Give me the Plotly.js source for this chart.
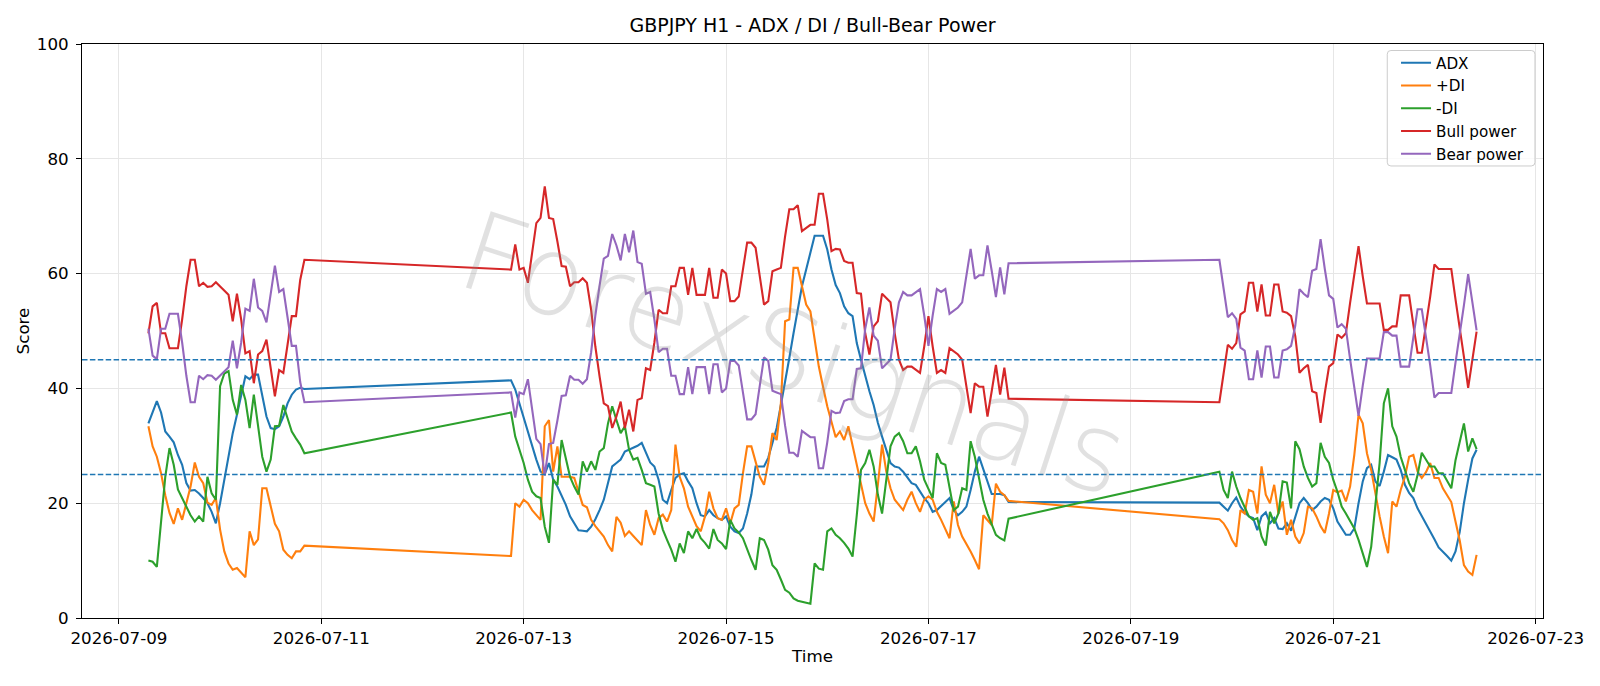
<!DOCTYPE html>
<html>
<head>
<meta charset="utf-8">
<script src="https://cdn.plot.ly/plotly-3.0.1.min.js"></script>
<style>
html,body{margin:0;padding:0;background:#ffffff;}
#chart{width:1600px;height:686px;}
</style>
</head>
<body>
<div id="chart"></div>
<script>
// Hourly (H1) bars: three trading blocks separated by weekends
const segmentStarts = ['2026-07-09T07:00:00', '2026-07-12T21:00:00', '2026-07-19T21:00:00'];
const segmentLengths = [38, 119, 62];

const seriesNames = ['ADX', '+DI', '-DI', 'Bull power', 'Bear power'];
const seriesColors = ['#1f77b4', '#ff7f0e', '#2ca02c', '#d62728', '#9467bd'];

const adx = [
  33.9, 36.0, 37.8, 35.8, 32.5, 31.6, 30.6, 28.4, 26.7, 23.5, 22.2, 22.3, 21.7, 20.9, 20.0, 18.5, 16.5, 20.0, 24.1, 28.1,
  32.2, 35.4, 38.6, 42.1, 41.6, 42.4, 42.4, 38.6, 35.1, 33.1, 32.9, 33.4, 35.1, 37.4, 38.9, 39.8, 40.1, 39.9,
  41.4, 39.8, 37.4, 34.8, 32.2, 29.9, 27.6, 25.5, 25.1, 27.0,
  24.1, 22.9, 21.4, 19.7, 17.7, 16.5, 15.3, 15.2, 15.1, 15.9,
  17.2, 18.8, 20.6, 23.5, 26.4, 27.0, 27.6, 29.0, 29.3, 29.6,
  30.0, 30.5, 28.7, 27.1, 26.4, 24.1, 20.6, 20.0, 22.3, 24.4,
  25.0, 25.2, 23.8, 22.6, 20.0, 17.9, 17.7, 18.8, 17.9, 17.4,
  17.1, 17.7, 15.9, 15.1, 14.8, 15.6, 18.2, 21.5, 26.4, 26.4,
  26.4, 27.9, 30.5, 33.1, 37.1, 40.9, 45.3, 49.6, 53.7, 57.8,
  60.7, 63.6, 66.6, 66.6, 66.6, 64.2, 60.7, 58.0, 56.6, 54.3,
  53.1, 52.6, 47.9, 45.0, 42.1, 39.5, 37.1, 34.0, 31.6, 29.3,
  27.0, 26.4, 26.2, 25.5, 24.4, 23.5, 23.2, 22.0, 20.9, 20.0,
  18.5, 18.8, 19.5, 20.3, 20.9, 18.8, 17.9, 18.5, 19.4, 22.3,
  25.5, 28.1, 25.8, 23.5, 21.6, 21.6, 21.6, 21.4, 20.2,
  20.1, 19.4, 18.7, 20.0, 21.0, 19.4, 18.4, 17.7, 17.4, 15.3,
  17.7, 18.4, 16.5, 17.4, 15.6, 15.5, 16.5, 15.2, 17.7, 20.0,
  20.9, 20.0, 18.8, 19.4, 20.3, 20.9, 20.6, 19.1, 16.8, 15.6,
  14.5, 14.5, 15.6, 20.0, 23.8, 26.1, 26.7, 23.8, 23.0, 25.5,
  28.4, 28.0, 27.6, 25.8, 23.2, 21.8, 20.9, 19.1, 17.8, 16.5,
  15.1, 13.7, 12.3, 11.6, 10.8, 10.0, 11.6, 15.0, 20.0, 24.1,
  27.8, 29.3
];

const plusDI = [
  33.4, 29.9, 28.1, 25.2, 21.4, 18.3, 16.4, 19.1, 17.1, 20.0, 22.9, 27.1, 24.6, 23.5, 20.1, 19.7, 20.9, 15.4, 11.6, 9.5,
  8.4, 8.7, 7.8, 7.1, 15.1, 12.7, 13.7, 22.6, 22.6, 19.4, 16.4, 15.1, 11.9, 11.0, 10.4, 11.6, 11.6, 12.6,
  10.8, 20.0, 19.4, 20.6, 20.0, 18.8, 17.9, 17.1, 33.4, 34.5,
  25.5, 29.9, 24.6, 24.6, 24.6, 24.4, 22.0, 19.7, 19.3, 17.1,
  16.0, 15.1, 14.2, 12.7, 11.6, 17.6, 16.6, 14.3, 15.1, 14.3,
  13.5, 12.7, 18.8, 16.2, 14.5, 17.4, 18.0, 16.8, 18.8, 30.2,
  24.6, 22.6, 19.4, 17.7, 16.0, 15.1, 17.7, 22.0, 19.1, 17.4,
  17.1, 19.1, 16.5, 19.1, 19.7, 25.2, 29.9, 29.9, 27.0, 24.6,
  23.2, 27.0, 32.2, 31.0, 37.4, 51.7, 52.0, 61.0, 61.0, 57.8,
  54.6, 53.4, 48.5, 43.8, 40.3, 36.9, 34.2, 31.5, 32.5, 31.0,
  33.4, 29.9, 26.7, 23.2, 20.0, 18.2, 16.8, 23.2, 30.2, 25.5,
  22.6, 20.6, 19.7, 18.8, 20.6, 22.0, 20.0, 18.5, 20.6, 21.2,
  20.6, 18.5, 17.1, 15.6, 13.9, 20.3, 16.2, 14.2, 13.0, 11.6,
  10.1, 8.5, 17.9, 17.1, 16.2, 23.4, 22.0, 21.4, 20.4,
  17.2, 16.5, 15.3, 13.6, 12.4, 18.8, 18.2, 22.3, 22.0, 18.2,
  26.4, 21.5, 20.0, 23.2, 18.2, 20.3, 14.5, 17.1, 14.2, 13.0,
  14.8, 19.4, 19.1, 17.7, 16.0, 14.8, 18.2, 22.3, 21.9, 22.2,
  20.3, 22.9, 28.4, 35.4, 33.9, 28.7, 25.8, 21.5, 17.7, 14.2,
  11.3, 20.3, 19.4, 22.3, 24.6, 28.1, 28.4, 25.5, 24.4, 25.4,
  27.0, 24.4, 24.4, 22.6, 21.4, 20.2, 16.8, 13.5, 9.2, 8.1,
  7.5, 11.0
];

const minusDI = [
  10.0, 9.8, 8.9, 16.5, 24.6, 29.6, 26.7, 22.4, 20.9, 19.4, 17.9, 16.8, 17.7, 16.8, 24.6, 21.7, 20.6, 40.4, 42.6, 43.0,
  38.0, 35.4, 40.6, 38.0, 33.1, 38.9, 33.4, 28.1, 25.5, 27.6, 33.4, 33.5, 37.1, 34.8, 32.5, 31.3, 30.2, 28.7,
  35.8, 31.6, 29.3, 27.0, 24.1, 22.0, 21.2, 20.9, 15.9, 13.1,
  24.1, 23.2, 31.0, 27.6, 24.6, 22.9, 21.5, 27.3, 25.5, 27.3,
  25.8, 29.0, 29.6, 33.9, 36.9, 34.5, 32.2, 33.4, 29.3, 27.6,
  27.9, 25.8, 23.5, 23.2, 22.9, 18.2, 15.4, 13.6, 11.9, 9.8,
  13.0, 11.3, 15.1, 13.9, 15.5, 13.9, 13.1, 12.1, 15.5, 13.6,
  13.0, 12.0, 17.1, 15.6, 14.9, 13.9, 11.9, 10.1, 8.4, 13.9,
  13.6, 11.9, 9.2, 8.4, 6.7, 4.9, 4.4, 3.4, 3.0, 2.8,
  2.6, 2.5, 9.5, 8.6, 8.4, 15.1, 15.6, 14.5, 13.9, 13.1,
  12.1, 10.7, 17.9, 25.8, 27.0, 29.3, 26.4, 21.5, 18.2, 24.1,
  29.9, 31.6, 32.2, 30.8, 28.7, 28.7, 29.9, 27.3, 24.1, 22.5,
  20.9, 28.7, 27.0, 26.7, 22.9, 18.8, 19.4, 22.6, 22.3, 30.8,
  28.1, 24.1, 20.6, 18.2, 16.5, 14.5, 13.9, 13.5, 17.3,
  25.5, 22.3, 20.9, 25.5, 22.9, 20.9, 19.4, 17.7, 17.1, 17.4,
  14.2, 12.6, 18.5, 16.5, 18.2, 23.8, 23.6, 19.1, 30.8, 29.4,
  26.4, 24.4, 22.9, 23.5, 30.5, 28.1, 27.0, 24.1, 22.0, 19.4,
  18.2, 16.8, 15.6, 13.6, 11.3, 8.9, 12.4, 20.0, 27.0, 37.4,
  40.0, 33.4, 31.6, 28.1, 25.8, 23.5, 22.0, 24.9, 28.8, 27.5,
  26.4, 26.4, 25.2, 25.2, 23.8, 22.6, 27.5, 30.8, 33.9, 29.0,
  31.3, 29.4
];

const bullPower = [
  49.6, 54.3, 54.9, 49.6, 49.6, 47.0, 47.0, 47.0, 52.0, 57.8, 62.4, 62.4, 57.8, 58.4, 57.7, 57.8, 58.5, 57.8, 57.1, 56.3,
  51.7, 56.5, 52.0, 46.1, 46.5, 40.9, 45.9, 46.5, 48.5, 43.8, 38.6, 43.2, 42.7, 47.6, 52.6, 52.6, 58.9, 62.4,
  60.7, 65.1, 60.7, 61.0, 58.4, 63.6, 68.8, 69.7, 75.2, 69.7,
  69.5, 65.6, 61.3, 61.2, 57.8, 58.5, 58.5, 59.2, 58.4, 53.7,
  47.3, 42.1, 37.4, 36.9, 33.1, 35.1, 37.7, 33.1, 36.3, 32.5,
  38.0, 38.3, 43.5, 43.2, 48.0, 53.7, 53.1, 53.1, 57.8, 57.8,
  61.0, 61.0, 56.3, 61.0, 56.3, 56.3, 56.3, 61.0, 55.8, 55.8,
  60.7, 60.0, 55.2, 55.2, 56.0, 60.7, 65.4, 65.4, 64.5, 59.5,
  54.6, 55.2, 60.4, 60.7, 61.0, 66.5, 71.2, 71.2, 71.9, 67.4,
  68.0, 68.5, 68.5, 73.9, 73.9, 69.4, 63.9, 64.3, 64.2, 62.2,
  61.9, 61.9, 56.6, 56.5, 49.6, 45.9, 50.8, 51.7, 56.5, 55.8,
  55.0, 49.6, 45.0, 43.2, 43.8, 43.8, 43.2, 42.7, 47.3, 52.6,
  47.3, 42.7, 43.2, 42.7, 47.0, 46.5, 45.9, 45.0, 40.3, 35.7,
  40.9, 40.3, 40.3, 35.1, 39.5, 44.1, 38.9, 43.6, 38.2,
  37.6, 42.6, 47.6, 46.9, 47.9, 52.9, 53.4, 58.4, 58.4, 53.4,
  58.1, 52.7, 52.7, 58.1, 58.1, 53.4, 53.2, 52.6, 49.1, 42.7,
  43.5, 44.1, 39.5, 39.2, 34.0, 39.2, 43.8, 44.4, 49.4, 48.8,
  49.6, 54.9, 59.5, 64.8, 59.5, 54.8, 54.8, 54.8, 54.8, 50.2,
  50.2, 50.8, 50.8, 56.2, 56.2, 56.2, 51.1, 46.2, 46.2, 50.8,
  56.0, 61.6, 60.8, 60.8, 60.8, 60.8, 55.5, 50.8, 45.5, 40.1,
  45.0, 49.9
];

const bearPower = [
  50.4, 45.7, 45.1, 50.4, 50.4, 53.0, 53.0, 53.0, 48.0, 42.2, 37.6, 37.6, 42.2, 41.6, 42.3, 42.2, 41.5, 42.2, 42.9, 43.7,
  48.3, 43.5, 48.0, 53.9, 53.5, 59.1, 54.1, 53.5, 51.5, 56.2, 61.4, 56.8, 57.3, 52.4, 47.4, 47.4, 41.1, 37.6,
  39.3, 34.9, 39.3, 39.0, 41.6, 36.4, 31.2, 30.3, 24.8, 30.3,
  30.5, 34.4, 38.7, 38.8, 42.2, 41.5, 41.5, 40.8, 41.6, 46.3,
  52.7, 57.9, 62.6, 63.1, 66.9, 64.9, 62.3, 66.9, 63.7, 67.5,
  62.0, 61.7, 56.5, 56.8, 52.0, 46.3, 46.9, 46.9, 42.2, 42.2,
  39.0, 39.0, 43.7, 39.0, 43.7, 43.7, 43.7, 39.0, 44.2, 44.2,
  39.3, 40.0, 44.8, 44.8, 44.0, 39.3, 34.6, 34.6, 35.5, 40.5,
  45.4, 44.8, 39.6, 39.3, 39.0, 33.5, 28.8, 28.8, 28.1, 32.6,
  32.0, 31.5, 31.5, 26.1, 26.1, 30.6, 36.1, 35.7, 35.8, 37.8,
  38.1, 38.1, 43.4, 43.5, 50.4, 54.1, 49.2, 48.3, 43.5, 44.2,
  45.0, 50.4, 55.0, 56.8, 56.2, 56.2, 56.8, 57.3, 52.7, 47.4,
  52.7, 57.3, 56.8, 57.3, 53.0, 53.5, 54.1, 55.0, 59.7, 64.3,
  59.1, 59.7, 59.7, 64.9, 60.5, 55.9, 61.1, 56.4, 61.8,
  62.4, 57.4, 52.4, 53.1, 52.1, 47.1, 46.6, 41.6, 41.6, 46.6,
  41.9, 47.3, 47.3, 41.9, 41.9, 46.6, 46.8, 47.4, 50.9, 57.3,
  56.5, 55.9, 60.5, 60.8, 66.0, 60.8, 56.2, 55.6, 50.6, 51.2,
  50.4, 45.1, 40.5, 35.2, 40.5, 45.2, 45.2, 45.2, 45.2, 49.8,
  49.8, 49.2, 49.2, 43.8, 43.8, 43.8, 48.9, 53.8, 53.8, 49.2,
  44.0, 38.4, 39.2, 39.2, 39.2, 39.2, 44.5, 49.2, 54.5, 59.9,
  55.0, 50.1
];

const referenceLevels = [45, 25];
const yTickValues = [0, 20, 40, 60, 80, 100];
const xRange = ['2026-07-08 15:15', '2026-07-23 01:45'];
const xTickStart = '2026-07-09';

function pad2(n) { return String(n).padStart(2, '0'); }
const times = [];
segmentStarts.forEach(function (s, k) {
  const t0 = Date.parse(s + 'Z');
  for (let i = 0; i < segmentLengths[k]; i++) {
    const d = new Date(t0 + i * 3600000);
    times.push(d.getUTCFullYear() + '-' + pad2(d.getUTCMonth() + 1) + '-' + pad2(d.getUTCDate()) +
      ' ' + pad2(d.getUTCHours()) + ':00');
  }
});

const allSeries = [adx, plusDI, minusDI, bullPower, bearPower];
const traces = allSeries.map(function (vals, i) {
  return {
    type: 'scatter',
    mode: 'lines',
    x: times.slice(0, vals.length),
    y: vals,
    name: seriesNames[i],
    line: { color: seriesColors[i], width: 2.1 },
    hoverinfo: 'x+y+name'
  };
});

const shapes = referenceLevels.map(function (lv) {
  return {
    type: 'line', xref: 'paper', x0: 0, x1: 1, yref: 'y', y0: lv, y1: lv,
    line: { color: '#1f77b4', width: 1.5, dash: '5.5px,2.4px' }
  };
});

// legend frame (rounded, semi-opaque white) in paper coordinates
(function () {
  const x0 = 0.8934, x1 = 0.9945, y0 = 0.7875, y1 = 0.9887, rx = 0.0025, ry = 0.0065;
  const p = 'M' + (x0 + rx) + ',' + y1 + ' L' + (x1 - rx) + ',' + y1 +
    ' Q' + x1 + ',' + y1 + ' ' + x1 + ',' + (y1 - ry) +
    ' L' + x1 + ',' + (y0 + ry) + ' Q' + x1 + ',' + y0 + ' ' + (x1 - rx) + ',' + y0 +
    ' L' + (x0 + rx) + ',' + y0 + ' Q' + x0 + ',' + y0 + ' ' + x0 + ',' + (y0 + ry) +
    ' L' + x0 + ',' + (y1 - ry) + ' Q' + x0 + ',' + y1 + ' ' + (x0 + rx) + ',' + y1 + ' Z';
  shapes.push({
    type: 'path', xref: 'paper', yref: 'paper', path: p, layer: 'above',
    fillcolor: 'rgba(255,255,255,0.8)', line: { color: '#cccccc', width: 1 }
  });
})();

const font = 'DejaVu Sans, Liberation Sans, Arial, sans-serif';
const tickSize = 16.7;

const layout = {
  width: 1600,
  height: 686,
  margin: { l: 82, r: 57, t: 44, b: 68, pad: 0 },
  paper_bgcolor: '#ffffff',
  plot_bgcolor: '#ffffff',
  font: { family: font, size: tickSize, color: '#000000' },
  title: {
    text: 'GBPJPY H1 - ADX / DI / Bull-Bear Power',
    x: 0.5, xref: 'paper', xanchor: 'center',
    y: 1 - 25.5 / 686, yref: 'container', yanchor: 'middle',
    font: { family: font, size: 19, color: '#000000' }
  },
  showlegend: true,
  legend: {
    x: 0.8994, xanchor: 'left', y: 0.996, yanchor: 'top',
    bgcolor: 'rgba(0,0,0,0)', borderwidth: 0,
    font: { family: font, size: 15.2, color: '#000000' },
    traceorder: 'normal', itemwidth: 30
  },
  xaxis: {
    type: 'date',
    range: xRange,
    tick0: xTickStart,
    dtick: 2 * 86400000,
    tickformat: '%Y-%m-%d',
    showgrid: true, gridcolor: '#e6e6e6', gridwidth: 1,
    zeroline: false,
    showline: true, mirror: true, linecolor: '#000000', linewidth: 1,
    ticks: 'outside', ticklen: 5, tickwidth: 1, tickcolor: '#000000',
    tickfont: { family: font, size: tickSize, color: '#000000' },
    automargin: false,
    title: { text: 'Time', font: { family: font, size: tickSize, color: '#000000' }, standoff: 3 }
  },
  yaxis: {
    range: [0, 100],
    tickvals: yTickValues,
    showgrid: true, gridcolor: '#e6e6e6', gridwidth: 1,
    zeroline: false,
    showline: true, mirror: true, linecolor: '#000000', linewidth: 1,
    ticks: 'outside', ticklen: 5, tickwidth: 1, tickcolor: '#000000',
    ticklabelstandoff: 4,
    tickfont: { family: font, size: tickSize, color: '#000000' },
    automargin: false,
    title: { text: 'Score', font: { family: font, size: tickSize, color: '#000000' }, standoff: 2 }
  },
  shapes: shapes,
  annotations: [{
    text: 'ForexSignals',
    xref: 'paper', yref: 'paper', x: 0.487, y: 0.46,
    xanchor: 'center', yanchor: 'middle',
    showarrow: false, textangle: 18,
    font: { family: 'DejaVu Sans, sans-serif', size: 110, weight: 200, color: 'rgba(140,140,140,0.26)' }
  }]
};

Plotly.newPlot('chart', traces, layout, { displayModeBar: false, staticPlot: true });
</script>
</body>
</html>
